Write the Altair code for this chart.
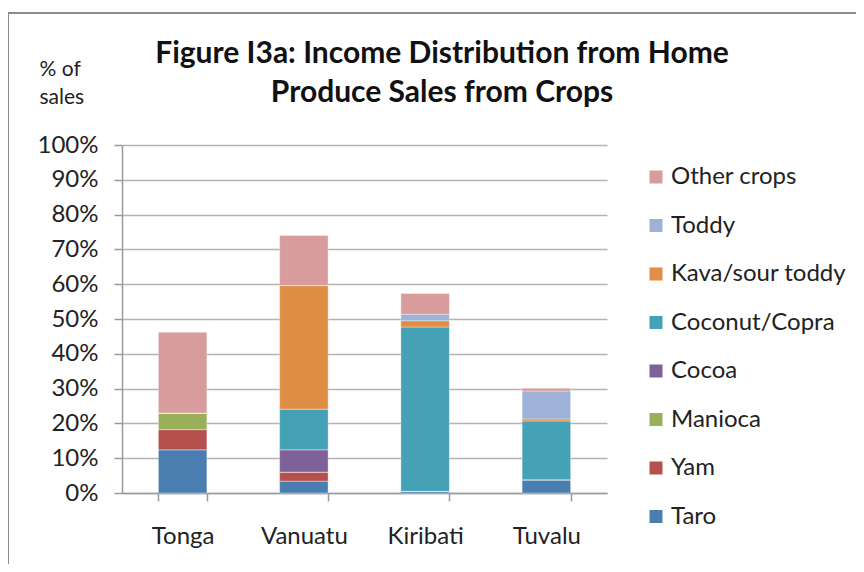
import altair as alt
import pandas as pd

countries = ["Tonga", "Vanuatu", "Kiribati", "Tuvalu"]
crops = ["Taro", "Yam", "Manioca", "Cocoa", "Coconut/Copra",
         "Kava/sour toddy", "Toddy", "Other crops"]
colors = ["#4A7EB1", "#B5514D", "#98B058", "#7D6198", "#44A1B6",
          "#E08E45", "#9DB2D6", "#D79C9B"]

taro = [12.4, 3.4, 0.5, 3.8]
yam = [5.8, 2.6, 0.0, 0.0]
manioca = [4.8, 0.0, 0.0, 0.0]
cocoa = [0.0, 6.4, 0.0, 0.0]
coconut = [0.0, 11.7, 47.2, 16.9]
kava = [0.0, 35.5, 1.8, 0.6]
toddy = [0.0, 0.0, 1.9, 8.0]
other = [23.2, 14.4, 5.9, 0.8]

title_lines = ["Figure I3a: Income Distribution from Home",
               "Produce Sales from Crops"]

series = [taro, yam, manioca, cocoa, coconut, kava, toddy, other]
rows = []
for i, (crop, vals) in enumerate(zip(crops, series)):
    for c, v in zip(countries, vals):
        rows.append({"Country": c, "Crop": crop, "Share": v / 100.0, "idx": i})
df = pd.DataFrame(rows)

W, H = 485, 348

bars = alt.Chart(df).mark_bar(stroke="white", strokeWidth=0.6, strokeOpacity=0.6).encode(
    x=alt.X("Country:N", sort=countries,
            scale=alt.Scale(paddingInner=0.6, paddingOuter=0.3),
            axis=alt.Axis(title=None, labelAngle=0, tickBand="extent",
                          grid=False, tickSize=8, labelPadding=23,
                          labelFont="Lato", labelFontSize=24,
                          labelColor="#222222", domainColor="#9a9a9a",
                          tickColor="#9a9a9a", domainWidth=1.5, tickWidth=1.5)),
    y=alt.Y("Share:Q", stack="zero",
            scale=alt.Scale(domain=[0, 1], nice=False),
            axis=alt.Axis(values=[i / 10 for i in range(11)], format=".0%",
                          title=["% of", "sales"], titleAngle=0,
                          titleAlign="left", titleBaseline="alphabetic",
                          titleX=-83, titleY=-70, titleLineHeight=28,
                          titleFont="Lato", titleFontSize=21,
                          titleFontWeight="normal", titleColor="#222222",
                          labelFont="Lato", labelFontSize=24,
                          labelColor="#222222", labelPadding=16, tickSize=8,
                          gridColor="#b4b4b4", gridWidth=1.5,
                          domainColor="#9a9a9a", tickColor="#9a9a9a",
                          domainWidth=1.5, tickWidth=1.5)),
    color=alt.Color("Crop:N",
                    scale=alt.Scale(domain=crops[::-1], range=colors[::-1]),
                    legend=alt.Legend(title=None, orient="none",
                                      legendX=522, legendY=20,
                                      symbolType="square", symbolSize=169,
                                      symbolStrokeWidth=0, labelFont="Lato",
                                      labelFontSize=24, labelColor="#222222",
                                      rowPadding=24.5, labelOffset=3,
                                      labelLimit=0, padding=0)),
    order=alt.Order("idx:Q", sort="ascending"),
)

one = pd.DataFrame({"a": [0]})

frame = alt.Chart(one).mark_rect(
    fill=None, stroke="#8c8c8c", strokeWidth=2
).encode(
    x=alt.value(-114), x2=alt.value(770),
    y=alt.value(-132), y2=alt.value(460),
)

title1 = alt.Chart(one).mark_text(
    font="Lato", fontSize=30, fontWeight="bold", color="#111111",
    align="center", baseline="alphabetic"
).encode(x=alt.value(320), y=alt.value(-82), text=alt.value(title_lines[0]))

title2 = alt.Chart(one).mark_text(
    font="Lato", fontSize=30, fontWeight="bold", color="#111111",
    align="center", baseline="alphabetic"
).encode(x=alt.value(320), y=alt.value(-43), text=alt.value(title_lines[1]))

chart = alt.layer(frame, bars, title1, title2).properties(
    width=W, height=H,
    autosize=alt.AutoSizeParams(type="none"),
    padding={"left": 114, "top": 137, "right": 249, "bottom": 71},
).configure_view(stroke=None)

chart.save("out.html", embed_options={"renderer": "svg", "actions": False})
